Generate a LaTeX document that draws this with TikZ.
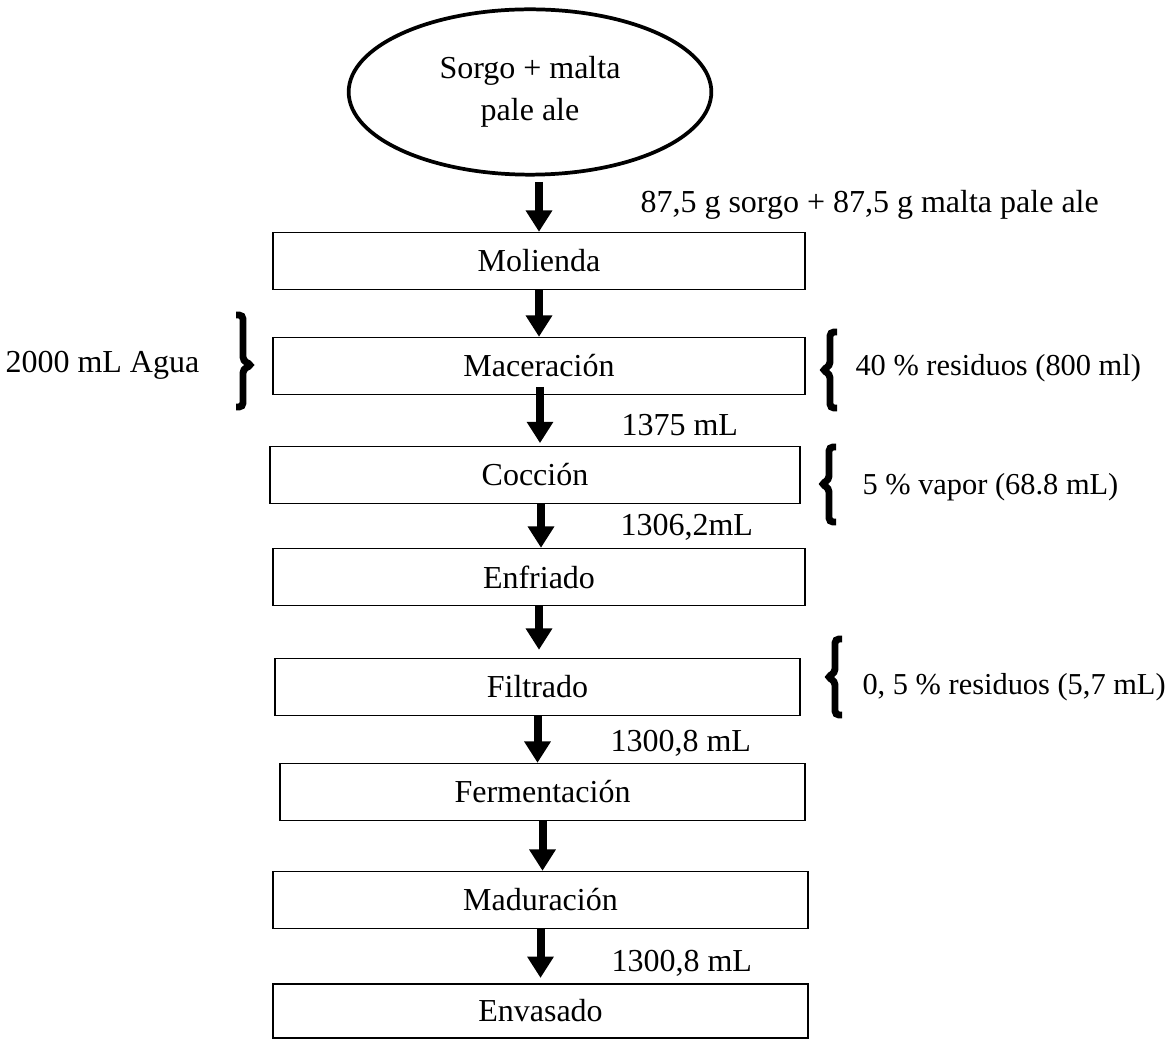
\documentclass[tikz,border=0pt]{standalone}
\usepackage{fontspec}
\setmainfont{Liberation Serif}
\usetikzlibrary{arrows.meta,shapes.geometric}
\tikzset{
  stepbox/.style={draw,line width=0.5pt,minimum width=199.5pt,minimum height=21.4pt,inner sep=0pt,font=\fontsize{12}{14}\selectfont},
  flow/.style={line width=3pt,-{Triangle[width=9.5pt,length=8pt]}},
  bracket/.style={line width=2.6pt,rounded corners=1.5pt},
  lbl/.style={anchor=west,inner sep=0pt,font=\fontsize{12}{14}\selectfont},
  side/.style={lbl,font=\fontsize{11.4}{14}\selectfont}
}
\begin{document}
\begin{tikzpicture}[x=0.375pt,y=-0.375pt]
  \useasboundingbox (0,0) rectangle (1167,1040);

  % Materia prima.
  \node[draw,ellipse,line width=1.4pt,minimum width=136pt,minimum height=62pt,inner sep=0pt,
    align=center,font=\fontsize{12}{15.8}\selectfont] (mp) at (530,92) {Sorgo + malta\\pale ale};

  % Etapas del proceso.
  \node[stepbox] (mol) at (539,261) {Molienda};
  \node[stepbox] (mac) at (539,366) {Maceración};
  \node[stepbox,minimum width=198.8pt] (coc) at (535,475) {Cocción};
  \node[stepbox] (enf) at (539,577) {Enfriado};
  \node[stepbox,minimum width=196.9pt] (fil) at (537.5,687) {Filtrado};
  \node[stepbox,minimum width=196.9pt] (fer) at (542.5,792) {Fermentación};
  \node[stepbox,minimum width=200.6pt] (mad) at (540.5,900) {Maduración};
  \node[stepbox,minimum width=200.6pt,minimum height=20.3pt] (env) at (540.5,1011) {Envasado};

  % Flechas.
  \draw[flow] ([yshift=-2pt]mol.north |- mp.south) -- (mol.north);
  \draw[flow] (mac.north |- mol.south) -- (mac.north);
  \draw[flow] (coc.north -| 540,0) ++(0,-59) -- ([yshift=1pt]coc.north -| 540,0);
  \draw[flow] (541,504) -- (enf.north -| 541,0);
  \draw[flow] (enf.south) -- ([yshift=3pt]fil.north -| enf.south);
  \draw[flow] (fil.south) -- (fer.north -| fil.south);
  \draw[flow] (fer.south) -- (mad.north -| fer.south);
  \draw[flow] (mad.south) -- ([yshift=2pt]env.north -| mad.south);

  % Cantidades.
  \node[lbl] (l1) at (640,205) {87,5 g sorgo + 87,5 g malta pale ale};
  \node[lbl] (l2) at (621,425) {1375 mL};
  \node[lbl] (l3) at (620,527) {1306,2mL};
  \node[lbl] (l4) at (610,743) {1300,8 mL};
  \node[lbl] (l5) at (611,963) {1300,8 mL};

  % Entradas y salidas.
  \node[lbl] (agua) at (5,365) {2000 mL Agua};
  \node[side] (res1) at (855,368) {40 \% residuos (800 ml)};
  \node[side] (vap)  at (862,487) {5 \% vapor (68.8 mL)};
  \node[side] (res2) at (862,687) {0, 5 \% residuos (5,7 mL)};

  % Llaves.
  \draw[bracket] (236,315) -- (243,315) -- (243,361) -- (252,365) -- (243,369) -- (243,407) -- (236,407);
  \foreach \x/\t/\c/\b in {830/332/370/408,829/447/484/522,835/639/677/715}{
    \draw[bracket] (\x+7,\t) -- (\x,\t) -- (\x,\c-4) -- (\x-8,\c) -- (\x,\c+4) -- (\x,\b) -- (\x+7,\b);
  }
\end{tikzpicture}
\end{document}
